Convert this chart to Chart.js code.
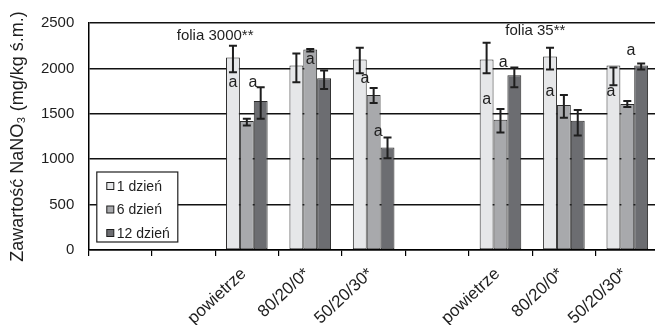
<!DOCTYPE html>
<html>
<head>
<meta charset="utf-8">
<script src="https://cdn.jsdelivr.net/npm/chart.js@4.4.1/dist/chart.umd.min.js"></script>
<style>
  html, body { margin: 0; padding: 0; background: #fff; overflow: hidden; }
  #wrap { width: 660px; height: 325px; }
</style>
</head>
<body>
<div id="wrap"><canvas id="chart" width="660" height="325"></canvas></div>
<script>
// ---- data ----
const categories = ['', '', 'powietrze', '80/20/0*', '50/20/30*', '', 'powietrze', '80/20/0*', '50/20/30*'];
const seriesNames = ['1 dzień', '6 dzień', '12 dzień'];

const day1  = [null, null, 2120, 2033, 2097, null, 2097, 2130, 2033];
const day6  = [null, null, 1420, 2207, 1707, null, 1435, 1598, 1609];
const day12 = [null, null, 1641, 1891, 1130, null, 1924, 1424, 2033];

// error bars as [low, high]
const err1  = [null, null, [1957, 2250], [1848, 2163], [1946, 2228], null, [1946, 2283], [1989, 2228], [1815, 2011]];
const err6  = [null, null, [1370, 1446], [2185, 2215], [1620, 1783], null, [1293, 1554], [1457, 1707], [1576, 1641]];
const err12 = [null, null, [1446, 1793], [1772, 1978], [1011, 1239], null, [1793, 2011], [1261, 1543], [1989, 2055]];

const yTicks = [0, 500, 1000, 1500, 2000, 2500];

// "a" letters: category, bar slot (0..2, fractional = between bars), value
const letters = [
    { cat: 2, slot: 0,     v: 1848 },
    { cat: 2, slot: 1.45,  v: 1848 },
    { cat: 3, slot: 1,     v: 2098 },
    { cat: 4, slot: 0.38,  v: 1891 },
    { cat: 4, slot: 1.32,  v: 1304 },
    { cat: 6, slot: 1.19,  v: 2065 },
    { cat: 6, slot: 0,     v: 1652 },
    { cat: 7, slot: 0,     v: 1750 },
    { cat: 8, slot: -0.17, v: 1750 },
    { cat: 8, slot: 1.27,  v: 2196 }
];

const groupTitles = [
    { text: 'folia 3000**', cat: 1.5,  v: 2359 },
    { text: 'folia 35**',   cat: 6.55, v: 2413 }
];

const colors = ['#e6e7e9', '#a8a9ac', '#6c6d71'];
const ink = '#1e1e1e';
const FONT = '"Liberation Sans", Arial, sans-serif';

// ---- overlay: error bars, letters, titles, legend ----
const overlay = {
    id: 'overlay',
    afterDatasetsDraw(chart) {
        const ctx = chart.ctx;
        const x = chart.scales.x, y = chart.scales.y;
        const errs = [err1, err6, err12];

        ctx.save();
        ctx.strokeStyle = ink;
        ctx.lineWidth = 2;
        errs.forEach((arr, d) => {
            const meta = chart.getDatasetMeta(d);
            arr.forEach((e, i) => {
                if (!e) return;
                const bx = meta.data[i].x;
                const y0 = y.getPixelForValue(e[0]);
                const y1 = y.getPixelForValue(e[1]);
                ctx.beginPath();
                ctx.moveTo(bx, y0); ctx.lineTo(bx, y1);
                ctx.moveTo(bx - 4, y0); ctx.lineTo(bx + 4, y0);
                ctx.moveTo(bx - 4, y1); ctx.lineTo(bx + 4, y1);
                ctx.stroke();
            });
        });

        // letters
        const bw = chart.getDatasetMeta(0).data[2].width;
        ctx.fillStyle = ink;
        ctx.font = '16px ' + FONT;
        ctx.textAlign = 'center';
        ctx.textBaseline = 'middle';
        letters.forEach(l => {
            const px = x.getPixelForValue(l.cat) + (l.slot - 1) * bw;
            ctx.fillText('a', px, y.getPixelForValue(l.v));
        });

        // group titles
        ctx.font = '15px ' + FONT;
        groupTitles.forEach(t => {
            ctx.fillText(t.text, x.getPixelForValue(t.cat), y.getPixelForValue(t.v));
        });

        // legend box in lower left of plot
        const lx = chart.chartArea.left + 8.5, ly = chart.chartArea.bottom - 78;
        ctx.fillStyle = '#fff';
        ctx.fillRect(lx, ly, 81, 70);
        ctx.lineWidth = 1.2;
        ctx.strokeStyle = ink;
        ctx.strokeRect(lx, ly, 81, 70);
        ctx.font = '14px ' + FONT;
        ctx.textAlign = 'left';
        chart.data.datasets.forEach((ds, i) => {
            const ry = ly + 14 + i * 23.5;
            ctx.fillStyle = ds.backgroundColor;
            ctx.fillRect(lx + 10, ry - 3.5, 7, 7);
            ctx.lineWidth = 1;
            ctx.strokeRect(lx + 10, ry - 3.5, 7, 7);
            ctx.fillStyle = ink;
            ctx.fillText(ds.label, lx + 20, ry + 1);
        });
        ctx.restore();
    }
};

new Chart(document.getElementById('chart'), {
    type: 'bar',
    data: {
        labels: categories,
        datasets: [day1, day6, day12].map((d, i) => ({
            label: seriesNames[i],
            data: d,
            backgroundColor: colors[i],
            borderColor: '#2b2b2b',
            borderWidth: 1,
            borderSkipped: false,
            barPercentage: 1,
            categoryPercentage: 0.656
        }))
    },
    options: {
        responsive: false,
        animation: false,
        layout: { padding: { left: 0, right: 1, top: 20, bottom: 0 } },
        plugins: { legend: { display: false }, tooltip: { enabled: false } },
        scales: {
            x: {
                grid: { drawOnChartArea: false, drawTicks: true, tickLength: 6, color: '#000', lineWidth: 1.2 },
                border: { color: '#000', width: 1.5 },
                ticks: {
                    autoSkip: false, maxRotation: 43, minRotation: 43,
                    color: ink, font: { family: FONT, size: 17 }, padding: 8, labelOffset: -3
                },
                afterFit(s) { s.height = 75; }
            },
            y: {
                min: 0, max: 2500,
                afterBuildTicks(s) { s.ticks = yTicks.map(v => ({ value: v })); },
                grid: { drawTicks: false, color: '#111', lineWidth: 1.5 },
                border: { color: '#000', width: 1.5 },
                ticks: { color: ink, font: { family: FONT, size: 15 }, padding: 14, callback: v => String(v) },
                title: {
                    display: true, text: 'Zawartość NaNO₃ (mg/kg ś.m.)',
                    color: ink, font: { family: FONT, size: 18 }, padding: { top: 7, bottom: 0 }
                },
                afterFit(s) { s.width = 88.3; }
            }
        }
    },
    plugins: [overlay]
});
</script>
</body>
</html>
